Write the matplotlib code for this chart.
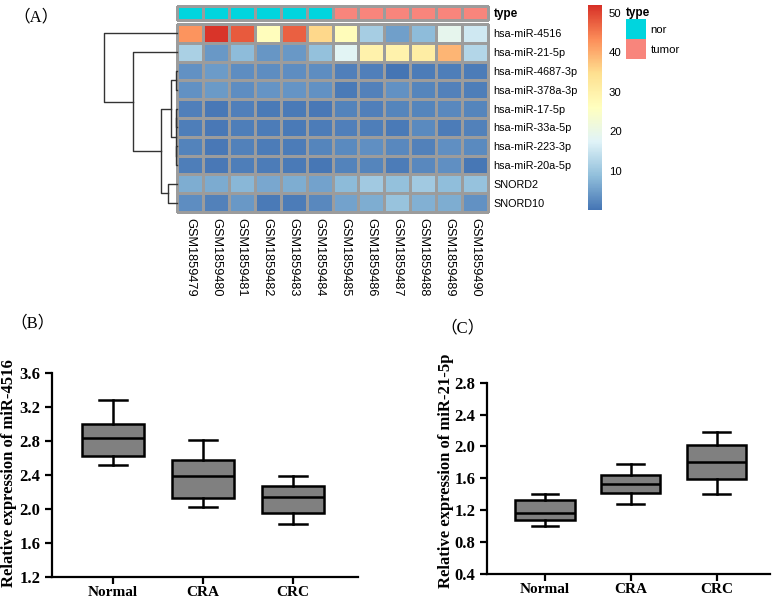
import numpy as np
import matplotlib
matplotlib.use("Agg")
import matplotlib.pyplot as plt
from matplotlib.colors import LinearSegmentedColormap, ListedColormap
from matplotlib.patches import Patch

# ---- data -------------------------------------------------------------
samples = ["GSM1859479", "GSM1859480", "GSM1859481", "GSM1859482",
           "GSM1859483", "GSM1859484", "GSM1859485", "GSM1859486",
           "GSM1859487", "GSM1859488", "GSM1859489", "GSM1859490"]
sample_type = ["nor"] * 6 + ["tumor"] * 6
type_levels = ["nor", "tumor"]

genes = ["hsa-miR-4516", "hsa-miR-21-5p", "hsa-miR-4687-3p", "hsa-miR-378a-3p",
         "hsa-miR-17-5p", "hsa-miR-33a-5p", "hsa-miR-223-3p", "hsa-miR-20a-5p",
         "SNORD2", "SNORD10"]

expr = np.array([
    [42.5, 51.5, 48.0, 26.5, 47.5, 35.5, 27.0, 11.0, 5.0, 8.5, 19.0, 15.5],
    [11.5, 4.2, 8.5, 4.0, 4.2, 9.0, 18.0, 29.5, 29.5, 31.0, 39.0, 12.5],
    [3.3, 4.5, 3.0, 3.0, 3.0, 3.0, 1.3, 1.3, 0.2, 1.0, 1.2, 1.0],
    [3.3, 4.3, 3.0, 3.8, 3.7, 3.3, 0.8, 1.5, 3.3, 2.0, 1.6, 1.2],
    [1.3, 0.5, 1.4, 0.8, 0.8, 0.6, 1.7, 1.4, 1.9, 2.0, 2.4, 2.0],
    [1.1, 0.5, 1.1, 0.9, 0.7, 1.0, 1.3, 1.2, 0.8, 2.6, 0.9, 1.6],
    [1.8, 0.6, 1.5, 0.9, 0.9, 2.0, 2.6, 3.2, 2.3, 1.6, 3.1, 2.5],
    [1.2, 0.6, 1.2, 0.9, 0.7, 0.4, 1.8, 2.0, 1.0, 2.4, 3.1, 0.4],
    [6.5, 6.4, 7.8, 5.9, 6.6, 5.3, 8.3, 10.5, 9.0, 10.5, 8.7, 9.2],
    [3.0, 1.6, 4.2, 0.8, 1.0, 2.4, 5.4, 6.7, 9.5, 7.0, 6.5, 3.4],
])

# row clustering: (child a, child b, height); leaves 0-9, merged nodes from 10
row_linkage = [
    (4, 5, 0.5),
    (6, 7, 0.5),
    (2, 3, 1.0),
    (10, 11, 1.3),
    (12, 13, 6.0),
    (8, 9, 9.3),
    (14, 15, 15.8),
    (1, 16, 43.5),
    (0, 17, 72.5),
]

groups = ["Normal", "CRA", "CRC"]
mir4516_whislo = [2.51, 2.02, 1.82]
mir4516_q1 = [2.62, 2.125, 1.945]
mir4516_med = [2.83, 2.38, 2.14]
mir4516_q3 = [3.00, 2.57, 2.27]
mir4516_whishi = [3.28, 2.81, 2.39]

mir21_whislo = [1.00, 1.28, 1.40]
mir21_q1 = [1.07, 1.42, 1.585]
mir21_med = [1.16, 1.53, 1.80]
mir21_q3 = [1.32, 1.64, 2.02]
mir21_whishi = [1.40, 1.775, 2.175]

# ---- figure -----------------------------------------------------------
W, H = 778, 602
fig = plt.figure(figsize=(W / 100, H / 100), dpi=100)


def px_axes(x0, y0, x1, y1):
    """axes from pixel box (top-left origin)"""
    return fig.add_axes([x0 / W, 1 - y1 / H, (x1 - x0) / W, (y1 - y0) / H])


sans = "Liberation Sans"
serif = "Liberation Serif"
panel_font = [serif, "Noto Sans CJK SC"]
grid_col = "#9c9c9c"

cmap = LinearSegmentedColormap.from_list(
    "rdylbu7", ["#4575B4", "#91BFDB", "#E0F3F8", "#FFFFBF",
                "#FEE090", "#FC8D59", "#D73027"])
vmin, vmax = 0, 52

# heatmap
ax_hm = px_axes(177, 24, 488, 212)
mesh = ax_hm.pcolormesh(expr, cmap=cmap, vmin=vmin, vmax=vmax,
                        edgecolors=grid_col, linewidth=0.8)
mesh.set_clip_on(False)
ax_hm.set_xlim(0, len(samples))
ax_hm.set_ylim(len(genes), 0)
for s in ax_hm.spines.values():
    s.set_visible(False)
ax_hm.yaxis.tick_right()
ax_hm.set_yticks(np.arange(len(genes)) + 0.5)
ax_hm.set_yticklabels(genes, fontsize=7.8, family=sans)
ax_hm.set_xticks(np.arange(len(samples)) + 0.5)
ax_hm.set_xticklabels(samples, fontsize=9.2, family=sans, rotation=-90,
                      va="top", ha="center")
ax_hm.tick_params(length=0, pad=4)
ax_hm.tick_params(axis="x", pad=4)

# annotation bar
type_colors = ["#00D5DE", "#F8857C"]
ax_an = px_axes(177, 6, 488, 20)
codes = np.array([[type_levels.index(t) for t in sample_type]])
an = ax_an.pcolormesh(codes, cmap=ListedColormap(type_colors), vmin=0, vmax=1,
                      edgecolors=grid_col, linewidth=0.8)
an.set_clip_on(False)
ax_an.set_xlim(0, len(samples))
ax_an.set_ylim(1, 0)
ax_an.set_xticks([])
ax_an.yaxis.tick_right()
ax_an.set_yticks([0.5])
ax_an.set_yticklabels(["type"], fontsize=8.5, family=sans, fontweight="bold")
ax_an.tick_params(length=0, pad=4)
for s in ax_an.spines.values():
    s.set_visible(False)

# dendrogram
ax_dg = px_axes(104, 24, 177, 212)
pos = {i: (i + 0.5, 0.0) for i in range(len(genes))}
for k, (a, b, h) in enumerate(row_linkage):
    ya, ha = pos[a]
    yb, hb = pos[b]
    ax_dg.plot([ha, h, h, hb], [ya, ya, yb, yb], color="#333333", lw=1.0,
               clip_on=False)
    pos[len(genes) + k] = ((ya + yb) / 2, h)
ax_dg.set_xlim(row_linkage[-1][2], 0)
ax_dg.set_ylim(len(genes), 0)
ax_dg.axis("off")

# colorbar
cax = px_axes(588, 5, 602, 210)
cb = fig.colorbar(mesh, cax=cax, ticks=[10, 20, 30, 40, 50])
cb.outline.set_visible(False)
cax.tick_params(length=0, labelsize=8.2, pad=5)
for lab in cax.get_yticklabels():
    lab.set_family(sans)

# type legend
handles = [Patch(facecolor=c, edgecolor="none") for c in type_colors]
leg = fig.legend(handles, type_levels, loc="upper left",
                 bbox_to_anchor=(626 / W, 1 - 7 / H), frameon=False,
                 prop={"family": sans, "size": 8.2}, title="type",
                 title_fontproperties={"family": sans, "size": 8.5,
                                       "weight": "bold"},
                 handlelength=1.75, handleheight=2.33, labelspacing=0,
                 handletextpad=0.4, borderpad=0, borderaxespad=0)
leg._legend_box.align = "left"


# box plots
def box_panel(ax, whislo, q1, med, q3, whishi, ylim, yticks, ylabel, xlim):
    stats = [dict(whislo=whislo[i], q1=q1[i], med=med[i], q3=q3[i],
                  whishi=whishi[i], fliers=[], label=groups[i])
             for i in range(len(groups))]
    ax.bxp(stats, positions=[1, 2, 3], widths=0.69, capwidths=0.31,
           patch_artist=True, showfliers=False,
           boxprops=dict(facecolor="#808080", edgecolor="black", lw=1.8),
           medianprops=dict(color="black", lw=1.8),
           whiskerprops=dict(color="black", lw=1.8),
           capprops=dict(color="black", lw=1.8))
    ax.set_xlim(*xlim)
    ax.set_ylim(*ylim)
    ax.set_yticks(yticks)
    ax.set_yticklabels([f"{t:.1f}" for t in yticks])
    ax.spines["top"].set_visible(False)
    ax.spines["right"].set_visible(False)
    for s in ("left", "bottom"):
        ax.spines[s].set_linewidth(1.6)
    ax.tick_params(width=1.6, length=5)
    ax.tick_params(axis="x", pad=2)
    for lab in ax.get_yticklabels():
        lab.set_fontproperties(dict(family=serif, weight="bold", size=12))
    for lab in ax.get_xticklabels():
        lab.set_fontproperties(dict(family=serif, weight="bold", size=11))
    ax.set_ylabel(ylabel, family=serif, fontweight="bold", fontsize=12)


ax_b = px_axes(52, 372.7, 358, 576.7)
box_panel(ax_b, mir4516_whislo, mir4516_q1, mir4516_med, mir4516_q3,
          mir4516_whishi, (1.2, 3.6), np.arange(1.2, 3.61, 0.4),
          "Relative expression of miR-4516", (0.32, 3.72))
ax_b.yaxis.set_label_coords(-0.113, 0.51)

ax_c = px_axes(487.3, 382.7, 770, 573.7)
box_panel(ax_c, mir21_whislo, mir21_q1, mir21_med, mir21_q3,
          mir21_whishi, (0.4, 2.8), np.arange(0.4, 2.81, 0.4),
          "Relative expression of miR-21-5p", (0.33, 3.62))
ax_c.yaxis.set_label_coords(-0.118, 0.54)

# panel labels
fig.text(13 / W, 1 - 17 / H, "（A）", family=panel_font, fontsize=12, va="center")
fig.text(10 / W, 1 - 323 / H, "（B）", family=panel_font, fontsize=12, va="center")
fig.text(440 / W, 1 - 328 / H, "（C）", family=panel_font, fontsize=12, va="center")

fig.savefig("out.png", dpi=100)
